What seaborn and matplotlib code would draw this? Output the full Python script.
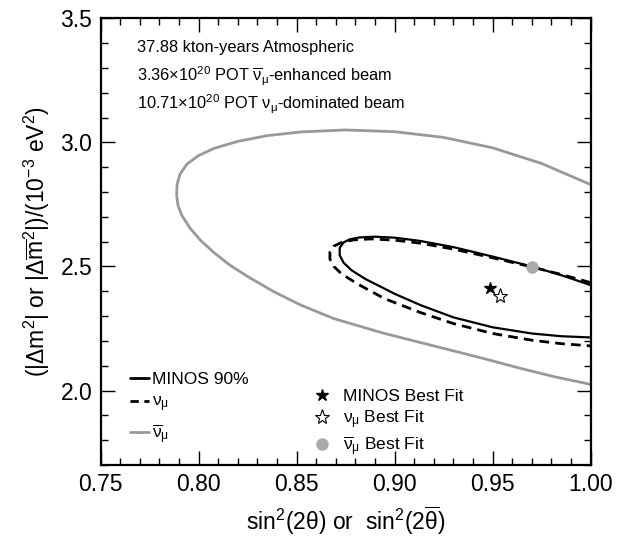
import io
import numpy as np
import pandas as pd
import matplotlib
matplotlib.use("Agg")
import matplotlib.pyplot as plt
from matplotlib.ticker import MultipleLocator, FormatStrFormatter
from matplotlib.lines import Line2D
import seaborn as sns

sns.set_theme(style="white")
plt.rcParams.update({
    "font.family": ["Liberation Sans", "DejaVu Sans"],
    "mathtext.fontset": "custom",
    "mathtext.rm": "Liberation Sans",
    "mathtext.it": "Liberation Sans",
    "xtick.direction": "in", "ytick.direction": "in",
    "xtick.top": True, "ytick.right": True,
    "xtick.bottom": True, "ytick.left": True,
    "xtick.major.size": 10, "ytick.major.size": 10,
    "xtick.minor.size": 5, "ytick.minor.size": 5,
    "xtick.major.width": 1.0, "ytick.major.width": 1.0,
    "xtick.minor.width": 1.0, "ytick.minor.width": 1.0,
    "xtick.color": "black", "ytick.color": "black",
    "axes.edgecolor": "black", "text.color": "black", "axes.labelcolor": "black",
})

# ---------------------------------------------------------------------------
# contour points (sin^2(2theta), dm^2 in 1e-3 eV^2)
# ---------------------------------------------------------------------------
minos_x = [1.000, 0.985, 0.970, 0.950, 0.930, 0.913, 0.900, 0.890, 0.882, 0.877, 0.874, 0.872,
           0.872, 0.874, 0.878, 0.885, 0.900, 0.913, 0.930, 0.950, 0.970, 0.985, 1.000]
minos_y = [2.425, 2.465, 2.500, 2.540, 2.578, 2.603, 2.616, 2.620, 2.617, 2.609, 2.597, 2.575,
           2.545, 2.515, 2.485, 2.450, 2.390, 2.345, 2.295, 2.255, 2.230, 2.219, 2.214]

numu_x = [1.000, 0.985, 0.970, 0.950, 0.930, 0.913, 0.900, 0.888, 0.879, 0.873, 0.869, 0.867,
          0.867, 0.869, 0.873, 0.881, 0.895, 0.913, 0.930, 0.950, 0.970, 0.985, 1.000]
numu_y = [2.435, 2.468, 2.498, 2.535, 2.570, 2.594, 2.606, 2.611, 2.607, 2.597, 2.582, 2.558,
          2.530, 2.500, 2.470, 2.430, 2.370, 2.315, 2.270, 2.230, 2.203, 2.189, 2.180]

numubar_x = [1.000, 0.975, 0.950, 0.925, 0.900, 0.875, 0.852, 0.835, 0.820, 0.808, 0.800,
             0.794, 0.7905, 0.7890, 0.7888, 0.7895, 0.7915, 0.7956, 0.8010, 0.8080, 0.8160,
             0.8260, 0.838, 0.852, 0.869, 0.894, 0.920, 0.945, 0.964, 0.982, 1.000]
numubar_y = [2.830, 2.915, 2.978, 3.020, 3.043, 3.050, 3.042, 3.027, 3.004, 2.976, 2.947,
             2.912, 2.872, 2.830, 2.787, 2.745, 2.705, 2.655, 2.605, 2.555, 2.505,
             2.455, 2.400, 2.345, 2.290, 2.232, 2.180, 2.130, 2.090, 2.055, 2.025]

# best fit points
best_x = [0.9486, 0.9540, 0.9700]
best_y = [2.412, 2.380, 2.498]

annot_lines = [
    "37.88 kton-years Atmospheric",
    r"3.36$\times$10$^{20}$ POT $\overline{\nu}_{\mu}$-enhanced beam",
    r"10.71$\times$10$^{20}$ POT $\nu_{\mu}$-dominated beam",
]
line_labels = ["MINOS 90%", r"$\nu_{\mu}$", r"$\overline{\nu}_{\mu}$"]
mark_labels = ["MINOS Best Fit", r"$\nu_{\mu}$ Best Fit", r"$\overline{\nu}_{\mu}$ Best Fit"]

GRAY = "#999999"
AX_RECT = [0.162, 0.134, 0.789, 0.832]


def build(spine_lw=1.6, labelsize=16.5, fig_legend=False, ax_texts=True):
    fig = plt.figure(figsize=(6.21, 5.37), dpi=100)
    ax = fig.add_axes(AX_RECT)

    contours = [
        (numubar_x, numubar_y, GRAY, "-", 2.0),
        (numu_x, numu_y, "black", (0, (3.5, 2.2)), 2.0),
        (minos_x, minos_y, "black", "-", 1.6),
    ]
    for cx, cy, col, ls, lw in contours:
        d = pd.DataFrame({"x": cx, "y": cy})
        sns.lineplot(data=d, x="x", y="y", sort=False, estimator=None, color=col,
                     linestyle=ls, linewidth=lw, ax=ax)

    ax.plot(best_x[0], best_y[0], marker="*", ms=9, color="black", ls="none")
    ax.plot(best_x[1], best_y[1], marker="*", ms=11, mfc="white", mec="black", mew=0.8, ls="none")
    ax.plot(best_x[2], best_y[2], marker="o", ms=8, color="#aaaaaa", mec="#aaaaaa", ls="none")

    ax.set_xlim(0.75, 1.0)
    ax.set_ylim(1.7, 3.5)
    ax.xaxis.set_major_locator(MultipleLocator(0.05))
    ax.xaxis.set_minor_locator(MultipleLocator(0.01))
    ax.yaxis.set_major_locator(MultipleLocator(0.5))
    ax.yaxis.set_minor_locator(MultipleLocator(0.1))
    ax.xaxis.set_major_formatter(FormatStrFormatter("%.2f"))
    ax.yaxis.set_major_formatter(FormatStrFormatter("%.1f"))
    ax.tick_params(which="major", length=10, width=1.0, pad=6, labelsize=labelsize)
    ax.tick_params(which="minor", length=5, width=1.0)
    for sp in ax.spines.values():
        sp.set_linewidth(spine_lw)

    ax.set_xlabel(r"sin$^{2}$(2$\theta$) or  sin$^{2}$(2$\overline{\theta}$)",
                  fontsize=16.5, labelpad=6)
    ax.set_ylabel(r"(|$\Delta$m$^{2}$| or |$\Delta\overline{\mathrm{m}}^{2}$|)/(10$^{-3}$ eV$^{2}$)",
                  fontsize=16.5, labelpad=6)

    tr = ax.transAxes
    for i, line in enumerate(annot_lines):
        if ax_texts:
            ax.text(0.075, 0.935 - i * 0.064, line, transform=tr, fontsize=11.8,
                    va="center", ha="left")
        else:
            fig.text(0.075, 0.935 - i * 0.064, line, transform=tr, fontsize=11.8,
                     va="center", ha="left")

    line_handles = [
        Line2D([], [], color="black", lw=2.0),
        Line2D([], [], color="black", lw=2.0, ls=(0, (3.0, 2.0))),
        Line2D([], [], color=GRAY, lw=2.0),
    ]
    mark_handles = [
        Line2D([], [], marker="*", ms=9, color="black", ls="none"),
        Line2D([], [], marker="*", ms=11, mfc="white", mec="black", mew=0.8, ls="none"),
        Line2D([], [], marker="o", ms=8, color="#aaaaaa", mec="#aaaaaa", ls="none"),
    ]
    leg_kw1 = dict(loc="upper left", bbox_to_anchor=(0.045, 0.225), frameon=False,
                   fontsize=12.5, handlelength=1.1, handletextpad=0.2,
                   labelspacing=0.45, borderaxespad=0)
    leg_kw2 = dict(loc="upper left", bbox_to_anchor=(0.42, 0.185), frameon=False,
                   fontsize=12.5, handlelength=1.0, handletextpad=0.7,
                   labelspacing=0.2, borderaxespad=0)
    if fig_legend:
        fig.legend(line_handles, line_labels, bbox_transform=tr, **leg_kw1)
        fig.legend(mark_handles, mark_labels, bbox_transform=tr, **leg_kw2)
    else:
        leg1 = ax.legend(line_handles, line_labels, **leg_kw1)
        ax.add_artist(leg1)
        ax.legend(mark_handles, mark_labels, **leg_kw2)
    return fig


def ticks_drawn(fig):
    # look at the inward major tick at x=0.80 (bottom) and y=3.0 (left)
    buf = io.BytesIO()
    fig.savefig(buf, format="png", dpi=100)
    buf.seek(0)
    img = plt.imread(buf)[..., :3].mean(axis=2)
    h, w = img.shape
    left = AX_RECT[0] * w
    bottom = h - AX_RECT[1] * h
    axw = AX_RECT[2] * w
    axh = AX_RECT[3] * h
    xt = int(round(left + (0.80 - 0.75) / 0.25 * axw))
    yt = int(round(bottom - (3.0 - 1.7) / 1.8 * axh))
    col = img[int(bottom) - 11:int(bottom) - 4, xt - 1:xt + 2]
    row = img[yt - 1:yt + 2, int(left) + 4:int(left) + 11]
    return col.min() < 0.5 and row.min() < 0.5


options = [
    dict(),
    dict(fig_legend=True),
    dict(spine_lw=1.25),
    dict(ax_texts=False),
    dict(labelsize=None),
    dict(fig_legend=True, spine_lw=1.25, ax_texts=False),
    dict(fig_legend=True, spine_lw=1.25, ax_texts=False, labelsize=None),
]
chosen = None
for opt in options:
    f = build(**opt)
    if ticks_drawn(f):
        chosen = f
        break
    plt.close(f)
if chosen is None:
    chosen = build()

chosen.savefig("out.png", dpi=100)
